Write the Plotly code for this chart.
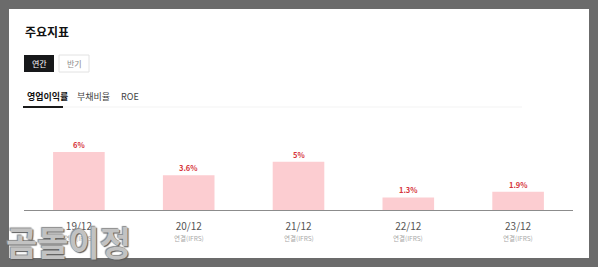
import plotly.graph_objects as go

categories = ["19/12", "20/12", "21/12", "22/12", "23/12"]
values = [6.0, 3.6, 5.0, 1.3, 1.9]
value_labels = ["6%", "3.6%", "5%", "1.3%", "1.9%"]
sub_labels = ["연결(IFRS)"] * 5
tabs = ["영업이익률", "부채비율", "ROE"]

W, H = 598, 267
L, R, T, B = 24, 25, 120, 57
PW = W - L - R
PH = H - T - B
FONT = "Noto Sans CJK KR, Noto Sans, sans-serif"


def px(x):
    return (x - L) / PW


def py(y):
    return (H - B - y) / PH


fig = go.Figure()
fig.add_trace(go.Bar(
    x=categories, y=values, width=0.47,
    marker=dict(color="#fccdd1", line=dict(width=0)),
    hoverinfo="skip",
))

shapes = []
# card
shapes.append(dict(type="rect", xref="paper", yref="paper", x0=px(9), x1=px(589), y0=py(258), y1=py(9),
                   fillcolor="white", line=dict(width=0), layer="below"))
# buttons
shapes.append(dict(type="rect", xref="paper", yref="paper", x0=px(24), x1=px(54), y0=py(72), y1=py(55),
                   fillcolor="#17181a", line=dict(width=0), layer="below"))
shapes.append(dict(type="rect", xref="paper", yref="paper", x0=px(59), x1=px(89), y0=py(72), y1=py(55),
                   fillcolor="white", line=dict(width=1, color="#e2e2e2"), layer="below"))
# tab divider and underline
shapes.append(dict(type="line", xref="paper", yref="paper", x0=px(23), x1=px(522), y0=py(107), y1=py(107),
                   line=dict(width=1, color="#f3f3f3"), layer="below"))
shapes.append(dict(type="rect", xref="paper", yref="paper", x0=px(23), x1=px(63), y0=py(108), y1=py(106),
                   fillcolor="#1a1a1a", line=dict(width=0), layer="below"))

ann = []
ann.append(dict(text="<b>주요지표</b>", xref="paper", yref="paper", x=px(23), y=py(31), xanchor="left",
                yanchor="middle", showarrow=False, font=dict(size=12, color="#111", family=FONT)))
ann.append(dict(text="연간", xref="paper", yref="paper", x=px(39), y=py(63.5), xanchor="center",
                yanchor="middle", showarrow=False, font=dict(size=8, color="white", family=FONT)))
ann.append(dict(text="반기", xref="paper", yref="paper", x=px(74), y=py(63.5), xanchor="center",
                yanchor="middle", showarrow=False, font=dict(size=8, color="#8a8a8a", family=FONT)))
tab_x = [25, 75, 119]
for i, (t, tx) in enumerate(zip(tabs, tab_x)):
    ann.append(dict(text=f"<b>{t}</b>" if i == 0 else t, xref="paper", yref="paper", x=px(tx), y=py(96),
                    xanchor="left", yanchor="middle", showarrow=False,
                    font=dict(size=9, color="#111" if i == 0 else "#444", family=FONT)))
for c, v, lab, sub in zip(categories, values, value_labels, sub_labels):
    ann.append(dict(text=f"<b>{lab}</b>", x=c, y=v, xref="x", yref="y", yanchor="bottom", yshift=0,
                    showarrow=False, font=dict(size=7.5, color="#d6353b", family=FONT)))
    ann.append(dict(text=sub, x=c, y=py(238), xref="x", yref="paper", yanchor="middle",
                    showarrow=False, font=dict(size=6.5, color="#a8a8a8", family=FONT)))
# watermark
ann.append(dict(text="<b>곰돌이정</b>", xref="paper", yref="paper", x=px(68), y=py(241), xanchor="center",
                yanchor="middle", showarrow=False,
                font=dict(size=34, color="#c2c2c2", family=FONT,
                          shadow="1px 1px 1px #5a5a5a, -1px -1px 1px #8a8a8a")))

fig.update_layout(
    width=W, height=H,
    margin=dict(l=L, r=R, t=T, b=B, pad=0),
    paper_bgcolor="#6b6b6b", plot_bgcolor="rgba(0,0,0,0)",
    showlegend=False, bargap=0.53,
    shapes=shapes, annotations=ann,
    font=dict(family=FONT),
    xaxis=dict(showgrid=False, zeroline=False, showline=True, linecolor="#8c8c8c", linewidth=1,
               ticks="", tickfont=dict(size=10, color="#555", family=FONT), ticklabelstandoff=7,
               fixedrange=True),
    yaxis=dict(range=[0, PH / 9.67], visible=False, fixedrange=True),
)

fig.write_html("out.html", config={"displayModeBar": False})
